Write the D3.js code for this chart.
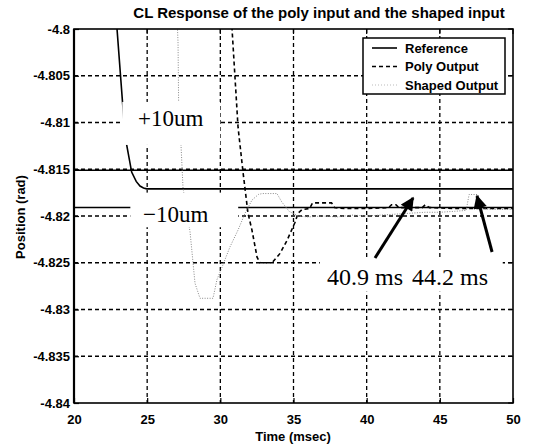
<!DOCTYPE html>
<html>
<head>
<meta charset="utf-8">
<script src="https://cdn.jsdelivr.net/npm/d3@7/dist/d3.min.js"></script>
<style>
  html, body { margin: 0; padding: 0; background: #fff; }
  svg { display: block; }
</style>
</head>
<body>
<svg id="chart" width="538" height="444"></svg>
<script>
// ---------------- data ----------------
const xTicks = [20, 25, 30, 35, 40, 45, 50];
const xTickLabels = ["20", "25", "30", "35", "40", "45", "50"];
const yTicks = [-4.84, -4.835, -4.83, -4.825, -4.82, -4.815, -4.81, -4.805, -4.8];
const yTickLabels = ["-4.84", "-4.835", "-4.83", "-4.825", "-4.82", "-4.815", "-4.81", "-4.805", "-4.8"];

const seriesNames = ["Reference", "Poly Output", "Shaped Output"];

// Reference trajectory (time ms, position rad)
const refTime = [22.70, 22.94, 23.42, 23.60, 23.94, 24.25, 24.51, 24.75, 24.97, 30, 40, 50];
const refPos  = [-4.7980, -4.8000, -4.8100, -4.8124, -4.8153, -4.8163, -4.8168, -4.8170, -4.8171, -4.8171, -4.8171, -4.8171];

// +/- 10 um band levels
const bandLevels = [-4.8151, -4.8191];

// Poly output
const polyTime = [30.70, 30.80, 31.21, 31.55, 31.89, 32.16, 32.51, 32.71, 33.53, 34.08, 34.56, 35.10, 35.31, 35.60, 36.10, 36.30, 37.60, 37.80, 38.50, 40.00, 41.50, 41.70, 42.00, 42.20, 43.80, 44.00, 44.30, 46.00, 48.00, 50.00];
const polyPos  = [-4.7990, -4.8000, -4.8105, -4.8153, -4.8197, -4.8215, -4.8244, -4.8250, -4.8250, -4.8240, -4.8226, -4.8207, -4.8197, -4.8193, -4.8192, -4.8186, -4.8186, -4.8191, -4.8192, -4.8192, -4.8191, -4.8188, -4.8188, -4.8191, -4.8191, -4.8188, -4.8191, -4.8192, -4.8192, -4.8192];

// Shaped output
const shapedTime = [27.05, 27.11, 27.15, 27.30, 27.45, 27.93, 28.27, 28.61, 29.50, 29.77, 30.11, 30.66, 31.21, 31.69, 32.16, 32.60, 32.85, 33.87, 34.20, 34.70, 35.31, 36, 37, 38, 39, 40, 41, 42, 43, 44, 45, 46, 46.8, 47.0, 47.6, 47.8, 48.5, 50];
const shapedPos  = [-4.7990, -4.8015, -4.8080, -4.8120, -4.8170, -4.8217, -4.8272, -4.8288, -4.8288, -4.8268, -4.8255, -4.8233, -4.8215, -4.8197, -4.8183, -4.8177, -4.8176, -4.8176, -4.8185, -4.8195, -4.8200, -4.8201, -4.8200, -4.8201, -4.8199, -4.8200, -4.8199, -4.8198, -4.8197, -4.8196, -4.8196, -4.8195, -4.8194, -4.8177, -4.8177, -4.8192, -4.8193, -4.8193];

// annotations (data coordinates)
const bandLabels = ["+10um", "\u221210um"];
const bandLabelPos = [[24.37, -4.81037], [24.72, -4.82064]];
const timeLabels = ["40.9 ms", "44.2 ms"];
const timeLabelPos = [[37.29, -4.82738], [43.10, -4.82738]];
const arrowTails = [[40.57, -4.82449], [48.57, -4.82385]];
const arrowTips  = [[43.17, -4.81807], [47.54, -4.81786]];

// ---------------- layout ----------------
const svg = d3.select("#chart");
const L = 74, R = 513, T = 29, B = 403;
const x = d3.scaleLinear().domain([20, 50]).range([L, R]);
const y = d3.scaleLinear().domain([-4.84, -4.8]).range([B, T]);
const sans = "'Liberation Sans', Arial, Helvetica, sans-serif";
const serif = "'Liberation Serif', 'Times New Roman', serif";

svg.append("defs").append("clipPath").attr("id", "plotClip")
  .append("rect").attr("x", L).attr("y", T).attr("width", R - L).attr("height", B - T);

// grid
const grid = svg.append("g").attr("stroke", "#000").attr("stroke-width", 1.3).attr("stroke-dasharray", "4,3");
grid.selectAll("line.gx").data(xTicks.slice(1, -1)).join("line")
  .attr("x1", d => x(d)).attr("x2", d => x(d)).attr("y1", T).attr("y2", B);
grid.selectAll("line.gy").data(yTicks.slice(1, -1)).join("line")
  .attr("x1", L).attr("x2", R).attr("y1", d => y(d)).attr("y2", d => y(d));

const plot = svg.append("g").attr("clip-path", "url(#plotClip)");

// band lines
plot.selectAll("line.band").data(bandLevels).join("line")
  .attr("x1", L).attr("x2", R).attr("y1", d => y(d)).attr("y2", d => y(d))
  .attr("stroke", "#000").attr("stroke-width", 1.5);

const line = d3.line().x(d => x(d[0])).y(d => y(d[1]));
const refData = refTime.map((t, i) => [t, refPos[i]]);
const polyData = polyTime.map((t, i) => [t, polyPos[i]]);
const shapedData = shapedTime.map((t, i) => [t, shapedPos[i]]);

plot.append("path").datum(refData).attr("d", line)
  .attr("fill", "none").attr("stroke", "#000").attr("stroke-width", 1.6);
plot.append("path").datum(polyData).attr("d", line)
  .attr("fill", "none").attr("stroke", "#000").attr("stroke-width", 1.6).attr("stroke-dasharray", "4,3");
plot.append("path").datum(shapedData).attr("d", line)
  .attr("fill", "none").attr("stroke", "#888").attr("stroke-width", 1).attr("stroke-dasharray", "1,1.5");

// band labels with white boxes
const bandBoxes = [[23.30, -4.8078, 30.0, -4.8124], [23.85, -4.8175, 31.22, -4.8212]];
svg.selectAll("rect.bbox").data(bandBoxes).join("rect")
  .attr("x", d => x(d[0])).attr("y", d => y(d[1]))
  .attr("width", d => x(d[2]) - x(d[0])).attr("height", d => y(d[3]) - y(d[1]))
  .attr("fill", "#fff");
svg.selectAll("text.blab").data(bandLabels).join("text")
  .attr("x", (d, i) => x(bandLabelPos[i][0])).attr("y", (d, i) => y(bandLabelPos[i][1]))
  .attr("font-family", serif).attr("font-size", 23).attr("fill", "#000").text(d => d);

// time labels with white box
const timeBox = [36.8, -4.8245, 49.3, -4.8281];
svg.append("rect")
  .attr("x", x(timeBox[0])).attr("y", y(timeBox[1]))
  .attr("width", x(timeBox[2]) - x(timeBox[0])).attr("height", y(timeBox[3]) - y(timeBox[1]))
  .attr("fill", "#fff");
svg.selectAll("text.tlab").data(timeLabels).join("text")
  .attr("x", (d, i) => x(timeLabelPos[i][0])).attr("y", (d, i) => y(timeLabelPos[i][1]))
  .attr("font-family", serif).attr("font-size", 24).attr("fill", "#000").text(d => d);

// arrows
svg.append("defs").append("marker").attr("id", "ah")
  .attr("viewBox", "0 0 10 10").attr("refX", 9).attr("refY", 5)
  .attr("markerWidth", 5).attr("markerHeight", 4.5).attr("markerUnits", "strokeWidth")
  .attr("orient", "auto")
  .append("path").attr("d", "M0,0 L10,5 L0,10 Z").attr("fill", "#000");
svg.selectAll("line.arrow").data(arrowTails).join("line")
  .attr("x1", d => x(d[0])).attr("y1", d => y(d[1]))
  .attr("x2", (d, i) => x(arrowTips[i][0])).attr("y2", (d, i) => y(arrowTips[i][1]))
  .attr("stroke", "#000").attr("stroke-width", 3).attr("marker-end", "url(#ah)");

// legend
const lg = svg.append("g");
lg.append("rect").attr("x", 363).attr("y", 38).attr("width", 142).attr("height", 56)
  .attr("fill", "#fff").attr("stroke", "#000").attr("stroke-width", 1.5);
const legStyles = [
  {stroke: "#000", dash: null, w: 1.6},
  {stroke: "#000", dash: "4,3", w: 1.4},
  {stroke: "#aaa", dash: "1,2", w: 0.8}
];
seriesNames.forEach((name, i) => {
  const yy = 48 + i * 18.5;
  lg.append("line").attr("x1", 372).attr("x2", 397).attr("y1", yy).attr("y2", yy)
    .attr("stroke", legStyles[i].stroke).attr("stroke-width", legStyles[i].w)
    .attr("stroke-dasharray", legStyles[i].dash);
  lg.append("text").attr("x", 405).attr("y", yy + 4.5)
    .attr("font-family", sans).attr("font-weight", "bold").attr("font-size", 13)
    .attr("fill", "#000").text(name);
});

// frame
svg.append("rect").attr("x", L).attr("y", T).attr("width", R - L).attr("height", B - T)
  .attr("fill", "none").attr("stroke", "#000").attr("stroke-width", 1.6);
svg.append("line").attr("x1", L).attr("x2", L).attr("y1", T).attr("y2", B)
  .attr("stroke", "#000").attr("stroke-width", 2.2);

// axes
const xAxis = d3.axisBottom(x).tickValues(xTicks).tickFormat((d, i) => xTickLabels[i]).tickSizeInner(-5).tickSizeOuter(0).tickPadding(12);
const yAxis = d3.axisLeft(y).tickValues(yTicks).tickFormat((d, i) => yTickLabels[i]).tickSizeInner(-5).tickSizeOuter(0).tickPadding(4);
const gx = svg.append("g").attr("transform", `translate(0,${B})`).call(xAxis);
const gy = svg.append("g").attr("transform", `translate(${L},0)`).call(yAxis);
[gx, gy].forEach(g => {
  g.select(".domain").remove();
  g.selectAll("line").attr("stroke", "#000").attr("stroke-width", 1.2);
  g.selectAll("text").attr("font-family", sans).attr("font-weight", "bold")
    .attr("font-size", 13).attr("fill", "#000");
});
gx.selectAll("text").attr("dy", "0.71em");

// top / right ticks
svg.append("g").selectAll("line").data(xTicks).join("line")
  .attr("x1", d => x(d)).attr("x2", d => x(d)).attr("y1", T).attr("y2", T + 5)
  .attr("stroke", "#000").attr("stroke-width", 1.2);
svg.append("g").selectAll("line").data(yTicks).join("line")
  .attr("x1", R - 5).attr("x2", R).attr("y1", d => y(d)).attr("y2", d => y(d))
  .attr("stroke", "#000").attr("stroke-width", 1.2);

// titles
svg.append("text").attr("x", 319).attr("y", 18).attr("text-anchor", "middle")
  .attr("font-family", sans).attr("font-weight", "bold").attr("font-size", 15)
  .attr("fill", "#000").text("CL Response of the poly input and the shaped input");
svg.append("text").attr("x", 293).attr("y", 441).attr("text-anchor", "middle")
  .attr("font-family", sans).attr("font-weight", "bold").attr("font-size", 13)
  .attr("fill", "#000").text("Time (msec)");
svg.append("text").attr("transform", "translate(25,217) rotate(-90)").attr("text-anchor", "middle")
  .attr("font-family", sans).attr("font-weight", "bold").attr("font-size", 13)
  .attr("fill", "#000").text("Position (rad)");
</script>
</body>
</html>
